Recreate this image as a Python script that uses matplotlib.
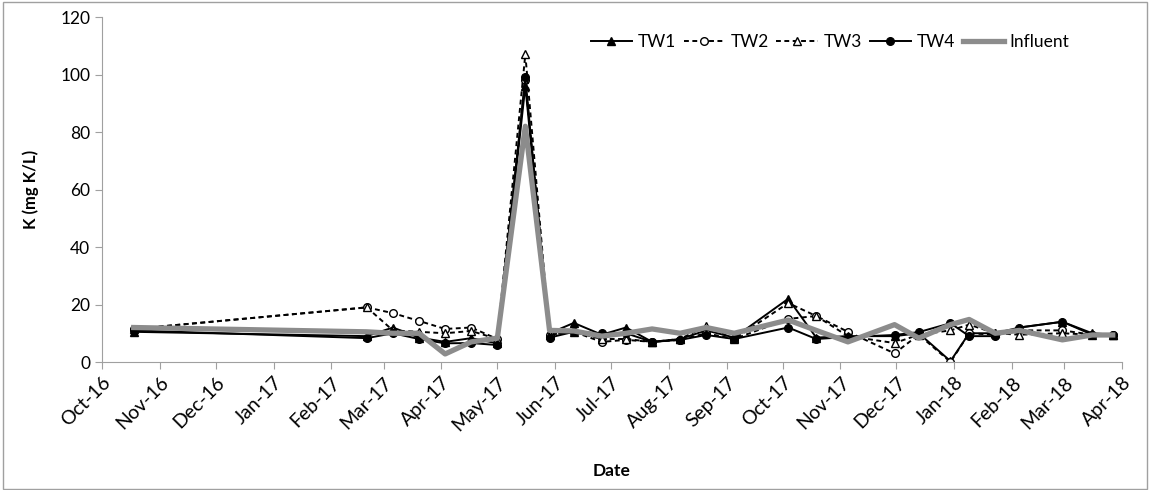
import numpy as np
import matplotlib
matplotlib.use('Agg')
import matplotlib.pyplot as plt
import matplotlib.dates as mdates
import pandas as pd

dates = ['2016-10-18', '2017-02-20', '2017-03-06', '2017-03-20', '2017-04-03', '2017-04-17',
         '2017-05-01', '2017-05-16', '2017-05-29', '2017-06-11', '2017-06-26', '2017-07-09',
         '2017-07-23', '2017-08-07', '2017-08-21', '2017-09-05', '2017-10-04', '2017-10-19',
         '2017-11-05', '2017-11-30', '2017-12-13', '2017-12-30', '2018-01-09', '2018-01-23',
         '2018-02-05', '2018-02-28', '2018-03-16', '2018-03-27']
tw1 = [10.5, 9, 12, 8.5, 7, 8.3, 6.5, 96, 10, 13.6, 9.5, 12, 7, 8, 11, 8.5,
       22, 8.5, 9, 9, 10, 0.3, 10, 10, 12, 14, 10, 9.5]
tw2 = [11.5, 19, 17, 14.3, 11.5, 12, 8, 98, 9.5, 10.5, 7, 7.7, 7, 7.7, 10, 8,
       15, 16, 10.5, 3, 9.5, 0, 10, 9.5, 11, 11, 9.5, 9.5]
tw3 = [11.5, 19, 11, 10.5, 10, 10.8, 8, 107, 9.5, 10.5, 8, 8, 7, 8, 12.5, 8,
       20.5, 16, 9, 6.6, 9.5, 11, 13, 10, 9.5, 10, 9.5, 9.5]
tw4 = [11, 8.3, 10, 8, 6.5, 6.6, 5.9, 99, 8.5, 10.5, 10, 10, 7, 7.7, 9.4, 8,
       12, 8, 8.7, 9.4, 10.4, 13.5, 9, 9, 12, 14, 9.5, 9.5]
influent = [12, 10.5, 10, 10, 2.8, 7, 8.3, 82, 11, 10.8, 9, 10, 11.5, 10, 12, 10,
            14.6, 11, 7, 13, 8.3, 13, 14.8, 10, 11, 7.7, 9.4, 9.4]

x = pd.to_datetime(dates)

plt.rcParams['font.family'] = ['Lato', 'DejaVu Sans']

fig = plt.figure(figsize=(11.5, 4.9), dpi=100)
ax = fig.add_axes([0.0887, 0.2612, 0.887, 0.7041])

# border round the whole chart
fig.patches.append(plt.Rectangle((0.003, 0.002), 0.994, 0.994, transform=fig.transFigure,
                                 fill=False, edgecolor='#a0a0a0', linewidth=1))

ax.plot(x, tw1, color='black', lw=1.4, marker='^', ms=5.5, mfc='black', label='TW1')
ax.plot(x, tw2, color='black', lw=1.4, ls=(0, (2.5, 1.8)), marker='o', ms=5.5, mfc='white', label='TW2')
ax.plot(x, tw3, color='black', lw=1.4, ls=(0, (2.5, 1.8)), marker='^', ms=5.5, mfc='white', label='TW3')
ax.plot(x, tw4, color='black', lw=1.4, marker='o', ms=5.5, mfc='black', label='TW4')
ax.plot(x, influent, color='#8c8c8c', lw=3.8, label='Influent')

ax.set_xlim(pd.Timestamp('2016-10-01'), pd.Timestamp('2018-04-01'))
ax.set_ylim(0, 120)
ax.set_yticks(range(0, 121, 20))
ax.xaxis.set_major_locator(mdates.MonthLocator())
ax.xaxis.set_major_formatter(mdates.DateFormatter('%b-%y'))

for s in ['top', 'right']:
    ax.spines[s].set_visible(False)
for s in ['left', 'bottom']:
    ax.spines[s].set_color('#a0a0a0')
ax.tick_params(colors='#a0a0a0', labelcolor='black', labelsize=12.5, length=5)
ax.tick_params(axis='x', labelsize=14)
plt.setp(ax.get_xticklabels(), rotation=45, ha='right', rotation_mode='anchor')

ax.set_ylabel('K (mg K/L)', fontsize=12, fontweight='bold', labelpad=15)
ax.set_xlabel('Date', fontsize=12.5, fontweight='bold', labelpad=21)

ax.legend(loc='upper right', bbox_to_anchor=(0.955, 0.97), ncol=5, frameon=False,
          fontsize=12.5, handlelength=2.4, handletextpad=0.3, columnspacing=0.45, borderaxespad=0)

fig.savefig('out.png', dpi=100)
